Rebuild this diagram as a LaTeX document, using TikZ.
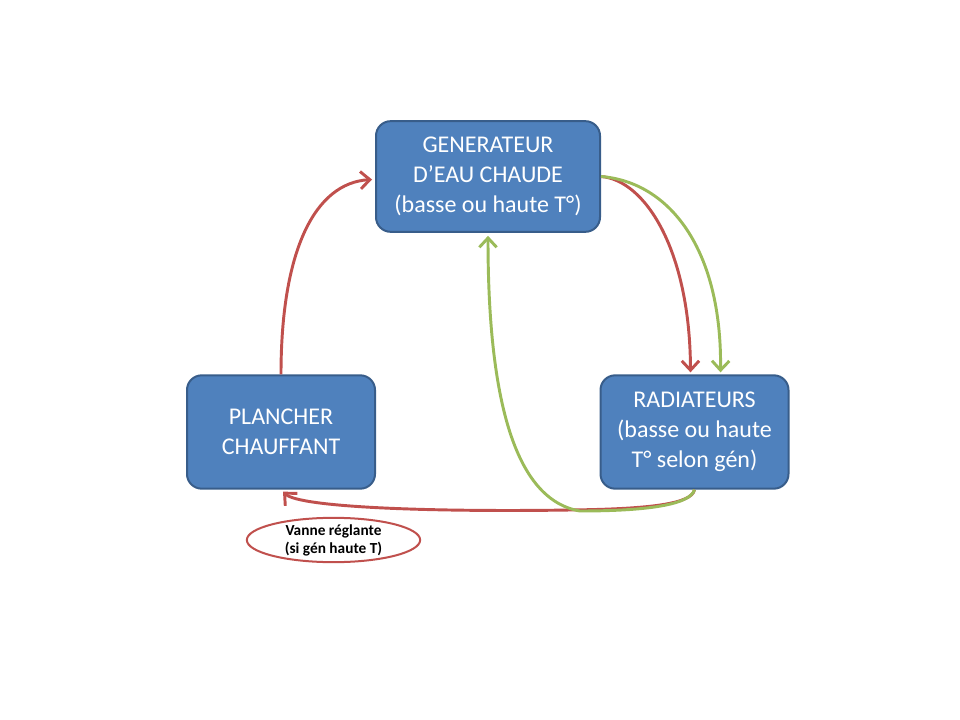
\documentclass[tikz,border=0pt]{standalone}
\usepackage{fontspec}
\setmainfont{Carlito}
\usetikzlibrary{arrows.meta,shapes.geometric,calc}
\definecolor{boxfill}{HTML}{4F81BD}
\definecolor{boxline}{HTML}{385D8A}
\definecolor{redline}{HTML}{C0504D}
\definecolor{greenline}{HTML}{9BBB59}
\tikzset{
  blockbox/.style={draw=boxline, line width=1.5pt, fill=boxfill, rounded corners=11pt,
    text=white, align=center, font=\fontsize{18}{22.5}\selectfont, inner sep=0pt},
  redflow/.style={draw=redline, line width=2.2pt, -{Straight Barb[length=7pt,width=13pt]}},
  greenflow/.style={draw=greenline, line width=2.2pt, -{Straight Barb[length=7pt,width=13pt]}},
  valve/.style={ellipse, draw=redline, line width=1.5pt, fill=white, align=center,
    font=\bfseries\fontsize{11.5}{13.5}\selectfont, inner sep=0pt}
}
\begin{document}
\begin{tikzpicture}[x=0.75pt,y=-0.75pt]
\useasboundingbox (0,0) rectangle (960,720);
\node[blockbox, minimum width=168pt, minimum height=83pt] (gen) at (488,176.5)
  {GENERATEUR\\D’EAU CHAUDE\\(basse ou haute T°)};
\node[blockbox, minimum width=141pt, minimum height=85pt] (rad) at (694.5,432)
  {RADIATEURS\\(basse ou haute\\T° selon gén)};
\node[blockbox, minimum width=141pt, minimum height=85pt] (plan) at (281,432)
  {PLANCHER\\CHAUFFANT};
\node[valve, minimum width=130pt, minimum height=33pt] (vanne) at (333.5,540)
  {Vanne réglante\\(si gén haute T)};
% red: plancher -> generateur
\draw[redflow] (plan.north) .. controls (281,250) and (315,183) .. ($(gen.west)+(-3,3)$);
% red: generateur -> radiateurs
\draw[redflow] (gen.east) .. controls (645,180) and (690,250) .. ($(rad.north)+(-4,-2)$);
% green: generateur -> radiateurs
\draw[greenflow] (gen.east) .. controls (670,182) and (722,250) .. ($(rad.north)+(26,-2)$);
% red: radiateurs -> plancher
\draw[redflow] (rad.south) .. controls (692,504) and (650,509) .. (570,510)
  .. controls (440,512) and (300,508) .. ($(plan.south)+(2,2)$);
% green: radiateurs -> generateur
\draw[greenflow] (rad.south) .. controls (690,506) and (640,511) .. (580,511)
  .. controls (515,500) and (488,400) .. ($(gen.south)+(0,3)$);
\end{tikzpicture}
\end{document}
